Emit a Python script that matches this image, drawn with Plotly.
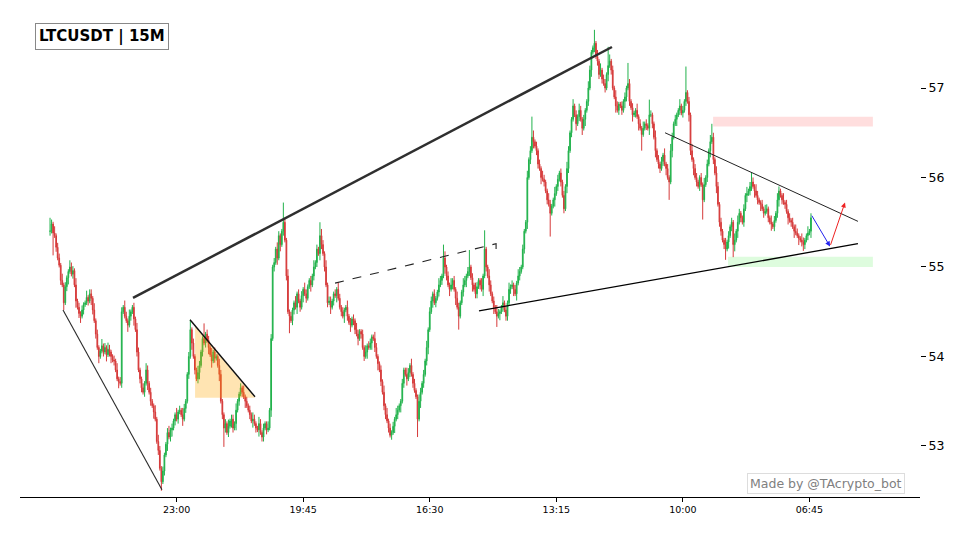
import plotly.graph_objects as go

# ---------------- data ----------------
CLOSES = [
    55.40, 55.48, 55.38, 55.35, 55.22, 55.10, 55.02, 54.85, 54.80, 54.60,
    54.78, 54.88, 54.95, 55.00, 54.92, 54.96, 54.80, 54.62, 54.55, 54.48,
    54.45, 54.52, 54.58, 54.60, 54.66, 54.62, 54.70, 54.65, 54.52, 54.40,
    54.25, 54.10, 54.00, 54.06, 54.12, 54.05, 54.10, 54.02, 54.08, 54.05,
    54.00, 53.96, 53.95, 53.85, 53.75, 53.72, 53.70, 54.50, 54.55, 54.45,
    54.40, 54.35, 54.45, 54.50, 54.55, 54.42, 54.30, 54.05, 53.85, 53.75,
    53.65, 53.60, 53.70, 53.85, 53.70, 53.60, 53.50, 53.45, 53.38, 53.30,
    53.05, 52.95, 52.75, 52.60, 52.72, 52.90, 53.02, 53.15, 53.10, 53.18,
    53.20, 53.28, 53.35, 53.30, 53.38, 53.40, 53.35, 53.30, 53.42, 53.50,
    53.80, 54.00, 54.30, 54.15, 54.00, 53.85, 53.75, 53.82, 53.90, 54.05,
    54.20, 54.15, 54.25, 54.18, 54.10, 54.02, 53.95, 54.05, 53.98, 54.00,
    53.90, 53.80, 53.50, 53.35, 53.20, 53.25, 53.15, 53.22, 53.28, 53.30,
    53.20, 53.25, 53.40, 53.50, 53.58, 53.65, 53.60, 53.55, 53.50, 53.45,
    53.40, 53.35, 53.28, 53.30, 53.25, 53.20, 53.18, 53.25, 53.15, 53.10,
    53.20, 53.25, 53.18, 53.20, 53.40, 54.20, 55.00, 55.05, 55.20, 55.10,
    55.35, 55.25, 55.40, 55.50, 55.30, 54.90, 54.50, 54.45, 54.40, 54.52,
    54.60, 54.55, 54.70, 54.62, 54.55, 54.68, 54.75, 54.70, 54.65, 54.78,
    54.85, 54.80, 54.90, 55.00, 55.05, 55.20, 55.15, 55.35, 55.25, 55.15,
    55.00, 54.80, 54.60, 54.62, 54.55, 54.62, 54.70, 54.68, 54.75, 54.65,
    54.55, 54.50, 54.45, 54.52, 54.55, 54.45, 54.38, 54.35, 54.42, 54.40,
    54.30, 54.25, 54.20, 54.28, 54.25, 54.10, 54.00, 54.05, 54.12, 54.10,
    54.15, 54.22, 54.20, 54.10, 54.00, 53.92, 53.85, 53.72, 53.60, 53.45,
    53.35, 53.28, 53.20, 53.12, 53.15, 53.22, 53.30, 53.35, 53.40, 53.45,
    53.50, 53.70, 53.85, 53.80, 53.75, 53.82, 53.90, 53.80, 53.70, 53.62,
    53.55, 53.30, 53.50, 53.60, 53.70, 53.80, 53.95, 54.10, 54.30, 54.50,
    54.62, 54.70, 54.60, 54.65, 54.72, 54.80, 54.85, 54.90, 55.10, 55.00,
    54.90, 54.80, 54.75, 54.80, 54.85, 54.75, 54.65, 54.55, 54.45, 54.60,
    54.72, 54.80, 54.85, 54.90, 54.95, 55.00, 54.88, 54.80, 54.75, 54.70,
    54.78, 54.85, 54.80, 54.75, 54.90, 55.20, 55.00, 54.90, 54.80, 54.70,
    54.62, 54.55, 54.50, 54.45, 54.48, 54.50, 54.55, 54.60, 54.52, 54.45,
    54.60, 54.75, 54.78, 54.80, 54.75, 54.70, 54.82, 54.90, 54.95, 55.00,
    55.20, 55.40, 55.50, 56.00, 56.20, 56.30, 56.45, 56.40, 56.35, 56.30,
    56.15, 56.10, 56.00, 55.98, 55.95, 55.85, 55.75, 55.70, 55.60, 55.68,
    55.75, 55.82, 55.90, 55.98, 56.05, 55.95, 55.80, 55.65, 55.90, 56.10,
    56.30, 56.50, 56.65, 56.80, 56.70, 56.60, 56.68, 56.75, 56.65, 56.55,
    56.65, 56.75, 56.85, 57.00, 57.20, 57.40, 57.45, 57.50, 57.35, 57.30,
    57.15, 57.20, 57.10, 57.05, 57.00, 57.15, 57.25, 57.30, 57.20, 57.00,
    56.90, 56.80, 56.75, 56.82, 56.80, 56.75, 56.85, 56.90, 57.00, 57.05,
    56.85, 56.78, 56.70, 56.72, 56.75, 56.68, 56.60, 56.55, 56.48, 56.55,
    56.60, 56.58, 56.55, 56.70, 56.70, 56.60, 56.45, 56.30, 56.20, 56.15,
    56.10, 56.18, 56.25, 56.15, 56.10, 56.00, 55.95, 56.30, 56.45, 56.60,
    56.65, 56.70, 56.75, 56.80, 56.72, 56.75, 56.85, 56.95, 56.85, 56.70,
    56.30, 56.20, 56.10, 56.00, 55.95, 55.90, 56.00, 55.92, 55.75, 55.92,
    56.00, 56.15, 56.30, 56.40, 56.45, 56.20, 56.05, 55.90, 55.70, 55.50,
    55.40, 55.30, 55.25, 55.20, 55.28, 55.35, 55.45, 55.50, 55.25, 55.30,
    55.40, 55.50, 55.60, 55.55, 55.50, 55.65, 55.80, 55.82, 55.85, 55.90,
    55.95, 55.90, 55.85, 55.80, 55.75, 55.72, 55.70, 55.65, 55.60, 55.62,
    55.65, 55.55, 55.50, 55.48, 55.45, 55.52, 55.60, 55.75, 55.85, 55.80,
    55.75, 55.72, 55.70, 55.62, 55.55, 55.52, 55.50, 55.45, 55.40, 55.38,
    55.35, 55.32, 55.30, 55.28, 55.25, 55.30, 55.35, 55.38, 55.40, 55.55,
]
FIRST_OPEN = 55.40

# wick lengths in units of 0.025, one digit per candle
WICK_UP = (
    "1213122131 2113221312 1211312213 1211312132 1121312213"
    "2131121321 1213212113 1321211231 2113121321 1231211321"
    "1312213121 1321121312 2131121312 1213211321 2113121213"
    "2113213121 1312121321 1213121132 1312211213 2121131212"
    "1321121312 2113211213 1312121321 1211321312 1132121312"
    "2121132113 1213121321 1321211213 2113121132 1213211312"
    "1312121321 2113121312 1213211321 1312121213 2113121321"
    "2113211213 1312211312 1321121213 2121131213 1213211312"
    "1213121321 2113121312 1312211213 1213121321 2113121213"
    "1321121312 1213211213 2113121321 1312121213 2113211312"
).replace(" ", "")
WICK_DN = (
    "2131211213 1231121312 3121121321 2131121312 3121131211"
    "1312131212 2121312131 1213121312 3121211312 1213121231"
    "2121313121 1312121213 2131212131 1213121312 2121131213"
    "1312121312 2131213121 1312121321 2121312131 1213121312"
    "2131212131 1312131212 2121213121 3121312121 1213121231"
    "1312121213 2131213121 1213121312 2121312131 1312131212"
    "2121313121 1213121312 2131212131 1312121213 2121131213"
    "1312131212 2121213121 1312121321 2131213121 1213121312"
    "2121312131 1312121213 2131212131 1213121312 2121131213"
    "1312121312 2131213121 1213121231 2121312131 1312121213"
).replace(" ", "")

HIGH_SPIKES = {0: 55.55, 92: 54.41, 101: 54.37, 153: 55.72, 177: 55.50, 258: 55.25,
               275: 55.19, 285: 55.41, 316: 56.68, 357: 57.65, 366: 57.46, 379: 57.28,
               393: 56.87, 417: 57.24, 434: 56.60, 460: 56.06}
LOW_SPIKES = {2: 55.13, 9: 54.52, 73: 52.50, 114: 52.99, 157: 54.26, 224: 53.07,
              241: 53.10, 268: 54.30, 293: 54.33, 328: 55.34, 388: 56.30, 406: 55.75,
              428: 55.53, 443: 55.08, 448: 55.11, 494: 55.18}

TICK_INDEX = [83, 166, 249, 332, 415, 498]
TICK_LABELS = ["23:00", "19:45", "16:30", "13:15", "10:00", "06:45"]
PRICE_TICKS = [53, 54, 55, 56, 57]

# drawn patterns (candle index, price)
RISING_LINE_X, RISING_LINE_Y = [54.4, 368.5], [54.654, 57.458]
WEDGE_LINE_X, WEDGE_LINE_Y = [8.5, 73.4], [54.52, 52.51]
TRI_LINE_X, TRI_LINE_Y = [91.8, 134.4], [54.41, 53.55]
TRI_FILL_X, TRI_FILL_Y = [95.1, 134.4, 95.1, 95.1], [54.34, 53.54, 53.54, 54.34]
DASH_LINE_X, DASH_LINE_Y = [186.9, 292.5, 292.5], [54.82, 55.26, 55.17]
SUPPORT_X, SUPPORT_Y = [281.3, 529.8], [54.51, 55.26]
RESIST_X, RESIST_Y = [403.3, 529.8], [56.50, 55.51]
RED_ZONE_X, RED_ZONE_Y = [434.8, 539.6], [56.57, 56.68]
GREEN_ZONE_X, GREEN_ZONE_Y = [444.6, 539.6], [55.00, 55.115]
BLUE_ARROW_X, BLUE_ARROW_Y = [499.0, 511.5], [55.59, 55.23]
RED_ARROW_X, RED_ARROW_Y = [511.5, 521.3], [55.23, 55.72]

# ---------------- build candles ----------------
n = len(CLOSES)
idx = list(range(n))
opens = [FIRST_OPEN] + CLOSES[:-1]
highs, lows = [], []
for i in range(n):
    o, c = opens[i], CLOSES[i]
    up = int(WICK_UP[i]) if i < len(WICK_UP) else 1
    dn = int(WICK_DN[i]) if i < len(WICK_DN) else 1
    h = max(o, c) + up * 0.025
    l = min(o, c) - dn * 0.025
    if i in HIGH_SPIKES:
        h = max(h, HIGH_SPIKES[i])
    if i in LOW_SPIKES:
        l = min(l, LOW_SPIKES[i])
    highs.append(h)
    lows.append(l)

GREEN = "#22b24c"
RED = "#d63a3a"
FONT = "DejaVu Sans"

fig = go.Figure()

fig.add_trace(go.Scatter(x=TRI_FILL_X, y=TRI_FILL_Y, mode="lines", fill="toself",
                         fillcolor="rgba(255,165,0,0.3)", line=dict(width=0),
                         hoverinfo="skip", showlegend=False))

fig.add_trace(go.Candlestick(
    x=idx, open=opens, high=highs, low=lows, close=CLOSES,
    increasing=dict(line=dict(color=GREEN, width=1), fillcolor=GREEN),
    decreasing=dict(line=dict(color=RED, width=1), fillcolor=RED),
    whiskerwidth=0, showlegend=False))

def line(xs, ys, color, width, dash="solid"):
    fig.add_trace(go.Scatter(x=xs, y=ys, mode="lines",
                             line=dict(color=color, width=width, dash=dash),
                             hoverinfo="skip", showlegend=False))

line(RISING_LINE_X, RISING_LINE_Y, "#2f2f2f", 2.5)
line(WEDGE_LINE_X, WEDGE_LINE_Y, "#2a2a2a", 1.1)
line(TRI_LINE_X, TRI_LINE_Y, "#111111", 1.4)
line(DASH_LINE_X, DASH_LINE_Y, "#222222", 1.1, "dash")
line(SUPPORT_X, SUPPORT_Y, "#000000", 1.3)
line(RESIST_X, RESIST_Y, "#222222", 1.0)

fig.add_shape(type="rect", x0=RED_ZONE_X[0], x1=RED_ZONE_X[1], y0=RED_ZONE_Y[0], y1=RED_ZONE_Y[1],
              xref="x", yref="y", fillcolor="rgba(255,0,0,0.13)", line=dict(width=0), layer="below")
fig.add_shape(type="rect", x0=GREEN_ZONE_X[0], x1=GREEN_ZONE_X[1], y0=GREEN_ZONE_Y[0], y1=GREEN_ZONE_Y[1],
              xref="x", yref="y", fillcolor="rgba(0,230,0,0.13)", line=dict(width=0), layer="below")

for ax_, ay_, col in [(BLUE_ARROW_X, BLUE_ARROW_Y, "#2222ee"), (RED_ARROW_X, RED_ARROW_Y, "#ee2222")]:
    fig.add_annotation(x=ax_[1], y=ay_[1], ax=ax_[0], ay=ay_[0], xref="x", yref="y",
                       axref="x", ayref="y", text="", showarrow=True, arrowhead=2,
                       arrowsize=1, arrowwidth=1, arrowcolor=col)

fig.add_annotation(text="<b>LTCUSDT | 15M</b>", xref="paper", yref="paper",
                   x=0.0911, y=0.9456, xanchor="center", yanchor="middle", showarrow=False,
                   font=dict(family=FONT, size=15, color="black"),
                   bgcolor="white", bordercolor="#888888", borderwidth=1, borderpad=3)
fig.add_annotation(text="Made by @TAcrypto_bot", xref="paper", yref="paper",
                   x=0.8956, y=0.0287, xanchor="center", yanchor="middle", showarrow=False,
                   font=dict(family=FONT, size=12.5, color="#808080"),
                   bgcolor="white", bordercolor="#dddddd", borderwidth=1, borderpad=2)

# the page body has an 8px margin, so the figure is drawn 8px in from the top-left
fig.update_layout(
    width=951, height=523,
    margin=dict(l=12, r=39, t=2, b=34),
    paper_bgcolor="white", plot_bgcolor="white",
    font=dict(family=FONT, color="black"),
    showlegend=False,
    xaxis=dict(range=[-19.7, 570.5], rangeslider=dict(visible=False),
               tickmode="array", tickvals=TICK_INDEX, ticktext=TICK_LABELS,
               ticks="outside", ticklen=4, tickcolor="black", tickwidth=1,
               tickfont=dict(size=9.5, family=FONT),
               showline=True, linecolor="black", linewidth=1,
               showgrid=False, zeroline=False),
    yaxis=dict(range=[52.430, 57.8715], side="right",
               tickmode="array", tickvals=PRICE_TICKS, ticktext=[str(v) for v in PRICE_TICKS],
               ticks="outside", ticklen=5, tickcolor="black", tickwidth=1,
               tickfont=dict(size=12.5, family=FONT),
               showline=False, showgrid=False, zeroline=False),
)

fig.write_html("out.html")
